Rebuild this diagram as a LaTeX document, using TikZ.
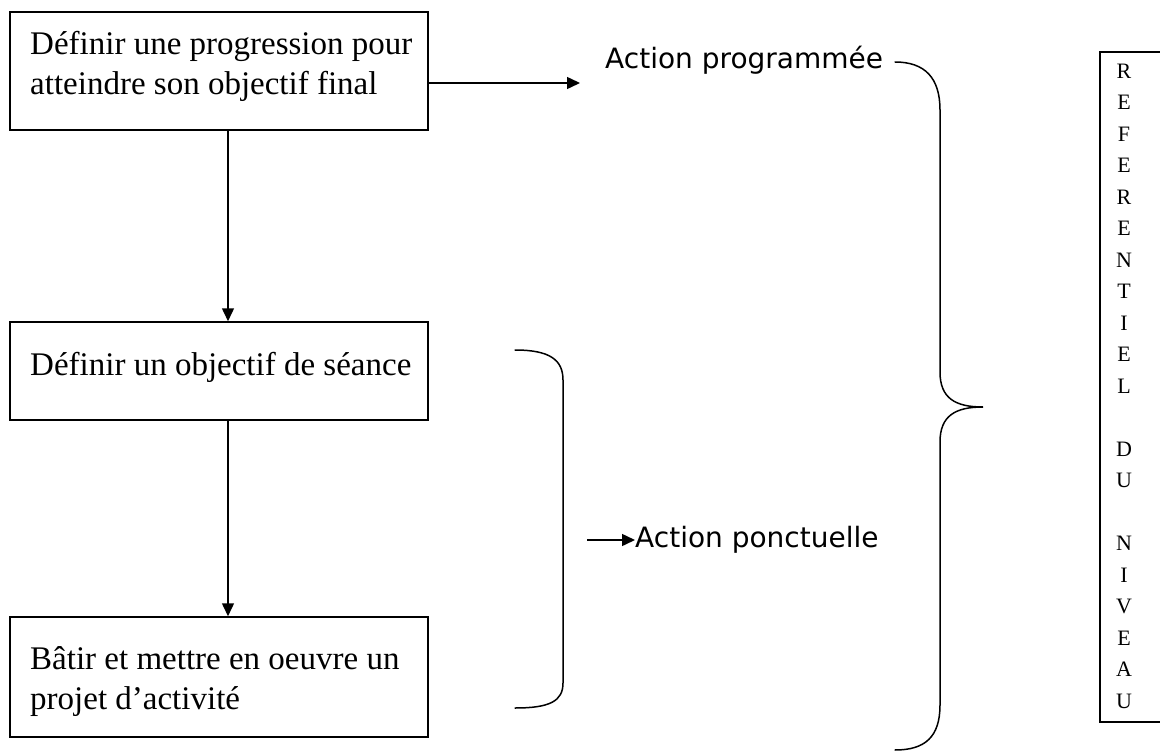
\documentclass[tikz,border=0pt]{standalone}
\usepackage{fontspec}
\setmainfont{Liberation Serif}
\newfontfamily\labelfont{DejaVu Sans}
\usetikzlibrary{calc,arrows.meta}

\begin{document}
\begin{tikzpicture}[x=1pt,y=-1pt,
  box/.style={draw, line width=1.5pt, rectangle, inner sep=0pt},
  boxline/.style={anchor=base west, inner sep=0pt, font=\fontsize{33}{39}\selectfont},
  flow/.style={line width=1.5pt, -{Triangle[length=13pt,width=12pt]}},
  sidelabel/.style={anchor=west, inner sep=0pt, font=\labelfont\fontsize{28}{32}\selectfont},
  brace/.style={line width=1.5pt, line cap=round},
  letter/.style={inner sep=0pt, font=\fontsize{22}{24}\selectfont}
]
\useasboundingbox (0,0) rectangle (1160,752);

% the three steps
\node[box, minimum width=418pt, minimum height=118pt] (b1) at (219,71) {};
\node[box, minimum width=418pt, minimum height=98pt]  (b2) at (219,371) {};
\node[box, minimum width=418pt, minimum height=120pt] (b3) at (219,677) {};

\node[boxline] (t1a) at (30,55)  {Définir une progression pour};
\node[boxline] (t1b) at (30,95)  {atteindre son objectif final};
\node[boxline] (t2)  at (30,375) {Définir un objectif de séance};
\node[boxline] (t3a) at (30,669) {Bâtir et mettre en oeuvre un};
\node[boxline] (t3b) at (30,709) {projet d’activité};

% vertical flow between steps
\coordinate (d1) at (228,130);
\coordinate (d2) at (228,420);
\draw[flow] (d1) -- (d1 |- b2.north);
\draw[flow] (d2) -- (d2 |- b3.north);

% labels on the right
\node[sidelabel] (lp) at (605,60) {Action programmée};
\node[sidelabel] (lc) at (635,540) {Action ponctuelle};

\coordinate (a1) at (428,83);
\coordinate (a1e) at (580,83);
\coordinate (a2) at (587,540);
\draw[flow] (a1) -- (a1e);
\draw[flow] (a2) -- (lc.west);

% bracket grouping the last two steps
\draw[brace] (515,350) .. controls (550,350) and (563,360) .. (563,380)
  -- (563,683) .. controls (563,701) and (550,708) .. (515,708);

% large brace grouping all the steps
\draw[brace] (895,62) .. controls (925,62) and (940,78) .. (940,110)
  -- (940,372) .. controls (940,398) and (955,407) .. (983,407)
  .. controls (955,407) and (940,416) .. (940,442)
  -- (940,705) .. controls (940,737) and (925,750) .. (895,750);

% vertical reference frame (its right side runs past the edge)
\node[box, minimum width=80pt, minimum height=670pt] (rb) at (1140,387) {};
\foreach \ch [count=\i from 0] in {R,E,F,E,R,E,N,T,I,E,L,{},D,U,{},N,I,V,E,A,U}
  \node[letter] at (1124,71+31.5*\i) {\ch};
\end{tikzpicture}
\end{document}
